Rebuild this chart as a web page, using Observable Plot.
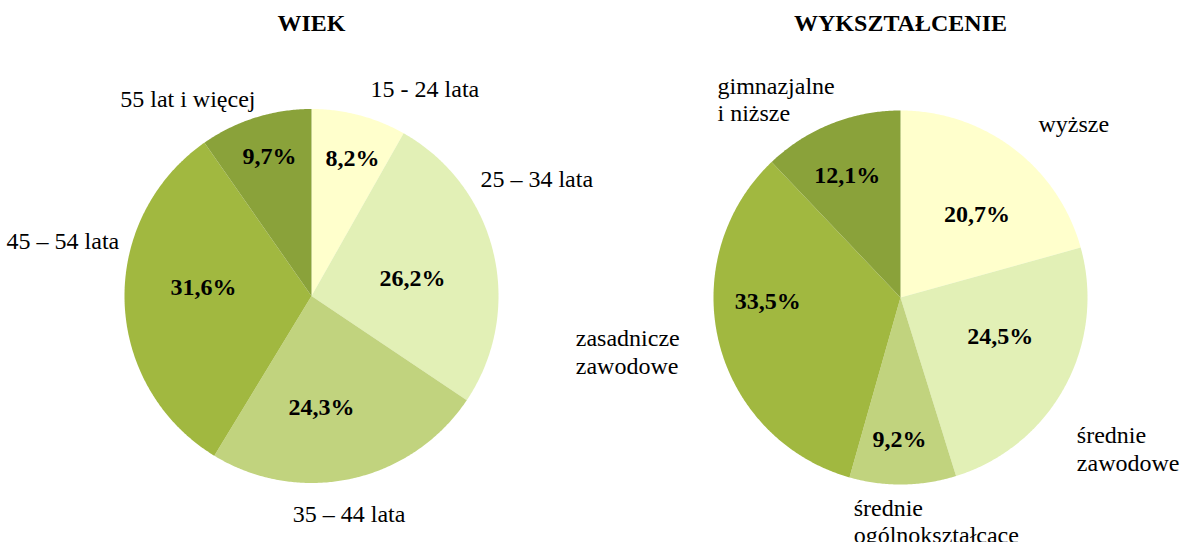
<!DOCTYPE html>
<html><head><meta charset="utf-8">
<script src="https://cdn.jsdelivr.net/npm/d3@7"></script>
<script src="https://cdn.jsdelivr.net/npm/@observablehq/plot@0.6"></script>
<style>
html,body{margin:0;padding:0;background:#fff;}
#chart svg text{font-family:"Liberation Serif","Times New Roman",serif !important;}
</style>
</head><body><div id="chart"></div>
<script>
// ---- data ----
const pieTitles = ["WIEK", "WYKSZTAŁCENIE"];
const ageLabels = ["15 - 24 lata", "25 – 34 lata", "35 – 44 lata", "45 – 54 lata", "55 lat i więcej"];
const ageShares = [8.2, 26.2, 24.3, 31.6, 9.7];
const eduLabels = ["wyższe", "średnie\nzawodowe", "średnie\nogólnokształcące", "zasadnicze\nzawodowe", "gimnazjalne\ni niższe"];
const eduShares = [20.7, 24.5, 9.2, 33.5, 12.1];
const sliceColors = ["#FFFFCC", "#E2F0B6", "#C1D37E", "#A1B840", "#8AA23A"];

// ---- layout (pie geometry & label placement in polar terms) ----
const FONT = "Liberation Serif";
const pies = [
  {title: pieTitles[0], labels: ageLabels, shares: ageShares, cx: 311, cy: 295.5, r: 187,
   pctPos: [[16.5, .772], [79.6, .549], [174.8, .593], [275, .58], [343.4, .784]],
   outPos: [[15.9, 1.153, "start"], [55.2, 1.10, "start"], [170.2, 1.18, "middle"], [286.1, 1.07, "end"], [344.2, 1.10, "end"]]},
  {title: pieTitles[1], labels: eduLabels, shares: eduShares, cx: 900, cy: 297, r: 187,
   pctPos: [[42.2, .61], [110.8, .57], [180.4, .75], [268.7, .71], [336.7, .72]],
   outPos: [[38.3, 1.19, "start"], [130.5, 1.24, "start"], [191.85, 1.22, "start"], [260.6, 1.76, "start"], [317.4, 1.446, "start"]]}
];

const rad = d => d * Math.PI / 180;
const polar = (p, deg, f) => ({x: p.cx + p.r * f * Math.sin(rad(deg)), y: p.cy - p.r * f * Math.cos(rad(deg))});

const slicePts = [], pctText = [], outText = [], titleText = [];
pies.forEach((p, pi) => {
  const total = d3.sum(p.shares);
  let acc = 0;
  titleText.push({x: p.cx, text: p.title});
  p.shares.forEach((v, i) => {
    const a0 = acc / total * 360, a1 = (acc + v) / total * 360;
    acc += v;
    const key = pi + "-" + i;
    slicePts.push({key, rank: i, x: p.cx, y: p.cy});
    const n = Math.max(2, Math.ceil((a1 - a0) * 2));
    for (let k = 0; k <= n; k++) {
      const pt = polar(p, a0 + (a1 - a0) * k / n, 1);
      slicePts.push({key, rank: i, ...pt});
    }
    const [pa, pf] = p.pctPos[i];
    pctText.push({...polar(p, pa, pf), text: v.toFixed(1).replace(".", ",") + "%"});
    const [oa, of, anchor] = p.outPos[i];
    outText.push({...polar(p, oa, of), text: p.labels[i], anchor});
  });
});

const textOpts = {fontFamily: FONT, fontSize: 24, fill: "black", lineAnchor: "middle", lineHeight: 1.14};

const chart = Plot.plot({
  width: 1182, height: 542,
  margin: 0,
  x: {domain: [0, 1182], range: [0, 1182], axis: null},
  y: {domain: [0, 542], range: [0, 542], axis: null},
  color: {type: "ordinal", domain: [0, 1, 2, 3, 4], range: sliceColors},
  style: {background: "white", fontFamily: FONT},
  marks: [
    Plot.line(slicePts, {x: "x", y: "y", z: "key", fill: "rank", stroke: "none", curve: "linear"}),
    Plot.text(pctText, {x: "x", y: "y", text: "text", ...textOpts, fontWeight: "bold", textAnchor: "middle"}),
    Plot.text(outText, {filter: d => d.anchor === "start", x: "x", y: "y", text: "text", ...textOpts, textAnchor: "start"}),
    Plot.text(outText, {filter: d => d.anchor === "middle", x: "x", y: "y", text: "text", ...textOpts, textAnchor: "middle"}),
    Plot.text(outText, {filter: d => d.anchor === "end", x: "x", y: "y", text: "text", ...textOpts, textAnchor: "end"}),
    Plot.text(titleText, {x: "x", text: "text", frameAnchor: "top", dy: 22, ...textOpts, fontWeight: "bold", textAnchor: "middle"})
  ]
});
document.getElementById("chart").appendChild(chart);
</script>
</body></html>
